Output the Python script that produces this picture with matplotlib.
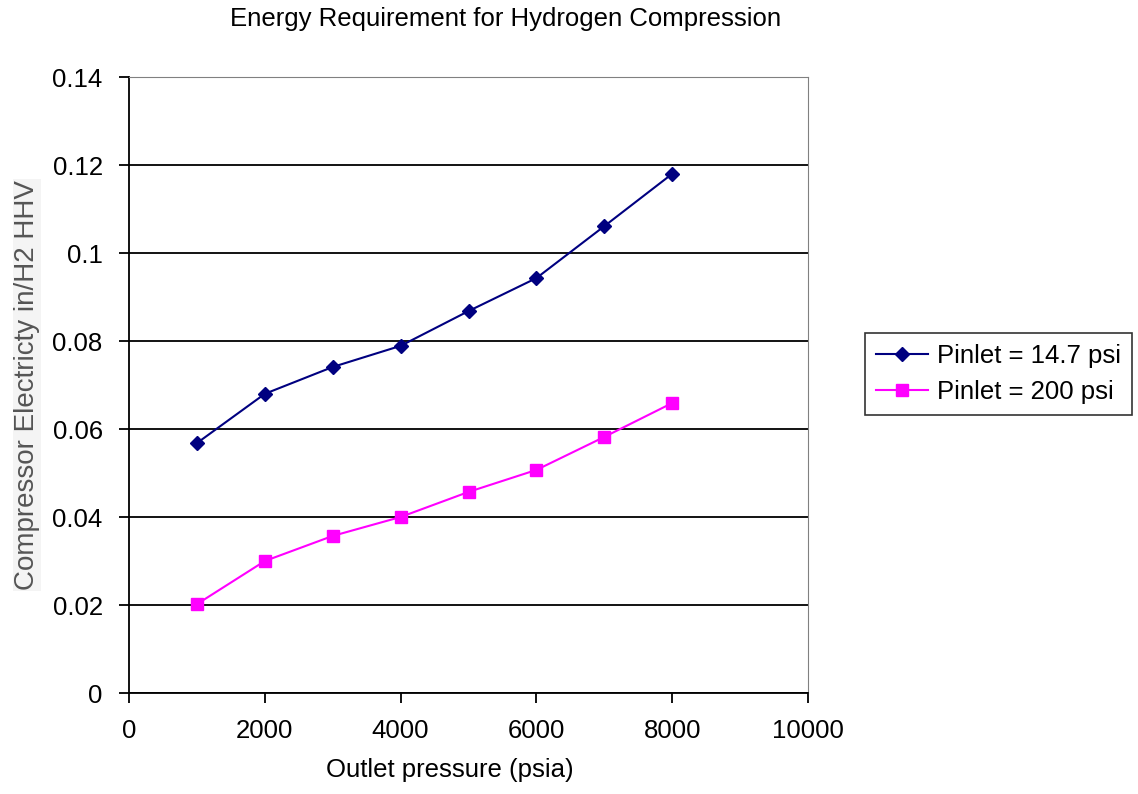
import matplotlib
matplotlib.use('Agg')
import matplotlib.pyplot as plt

plt.rcParams['font.family'] = ['Liberation Sans', 'DejaVu Sans']

pressure = [1000, 2000, 3000, 4000, 5000, 6000, 7000, 8000]
elec_14_7 = [0.0568, 0.0680, 0.0741, 0.0789, 0.0868, 0.0943, 0.1061, 0.1180]
elec_200 = [0.0202, 0.0300, 0.0357, 0.0400, 0.0457, 0.0507, 0.0582, 0.0659]
labels = ['Pinlet = 14.7 psi', 'Pinlet = 200 psi']

fig = plt.figure(figsize=(11.38, 7.94), dpi=100)
ax = fig.add_axes([0.1134, 0.1272, 0.5966, 0.7758])

ax.plot(pressure, elec_14_7, color='#000080', marker='D', markersize=7,
        linewidth=1.5, label=labels[0], clip_on=False, zorder=3)
ax.plot(pressure, elec_200, color='#ff00ff', marker='s', markersize=8,
        linewidth=1.5, label=labels[1], clip_on=False, zorder=3)

ax.set_xlim(0, 10000)
ax.set_ylim(0, 0.14)
ax.set_xticks(range(0, 10001, 2000))
ax.set_yticks([0, 0.02, 0.04, 0.06, 0.08, 0.1, 0.12, 0.14])
ax.set_yticklabels(['0', '0.02', '0.04', '0.06', '0.08', '0.1', '0.12', '0.14'])
ax.yaxis.grid(True, color='black', linewidth=1.3)
ax.set_axisbelow(True)

for s in ['top', 'right']:
    ax.spines[s].set_color('#808080')
ax.spines['left'].set_linewidth(1.3)
ax.spines['bottom'].set_linewidth(1.3)
ax.tick_params(axis='both', labelsize=18.5, length=7, width=1.3, direction='out')
ax.tick_params(axis='x', pad=12)
ax.tick_params(axis='y', pad=12)

ax.set_xlabel('Outlet pressure (psia)', fontsize=18.5, labelpad=14)
ax.xaxis.set_label_coords(0.472, -0.105)
ax.set_ylabel('Compressor Electricty in/H2 HHV', fontsize=20, color='#555555',
              labelpad=9, bbox=dict(facecolor='#f4f4f4', edgecolor='none', pad=1))
fig.text(0.4446, 0.976, 'Energy Requirement for Hydrogen Compression',
         fontsize=18.5, ha='center', va='center')

leg = ax.legend(loc='upper left', bbox_to_anchor=(0.760, 0.581),
                bbox_transform=fig.transFigure, fontsize=18.5, frameon=True,
                fancybox=False, edgecolor='black', handlelength=2.0,
                handletextpad=0.35, borderpad=0.45, labelspacing=0.45,
                borderaxespad=0)
leg.get_frame().set_linewidth(1.2)

fig.savefig('out.png', dpi=100)
